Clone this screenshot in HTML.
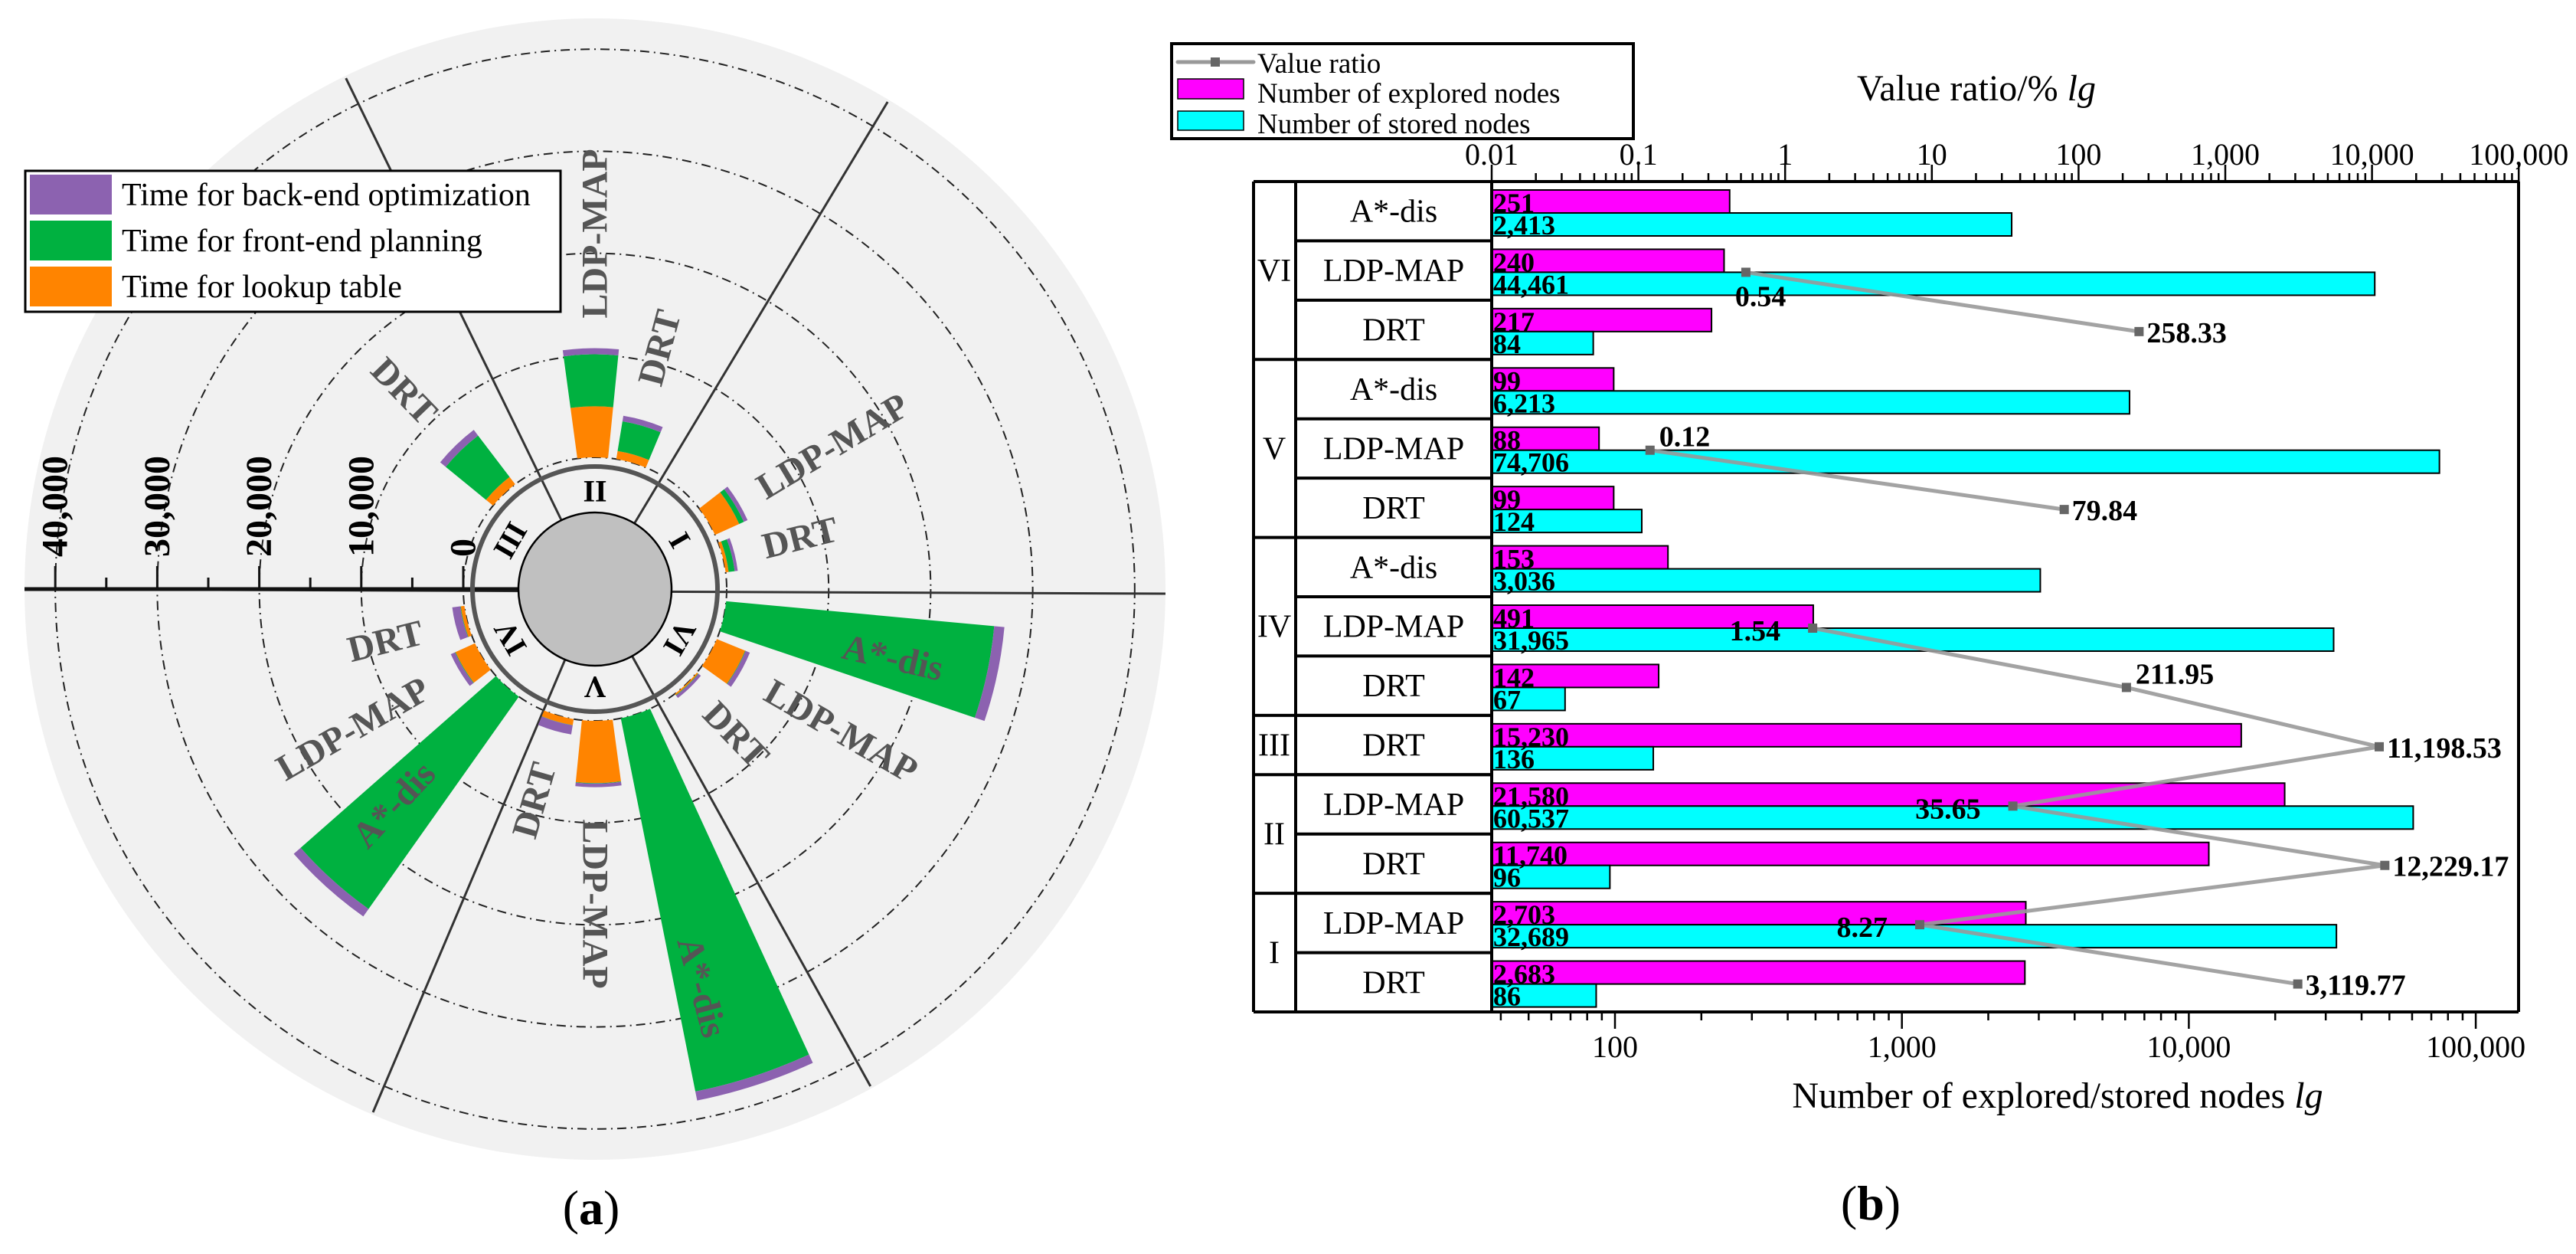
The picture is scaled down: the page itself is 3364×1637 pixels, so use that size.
<!DOCTYPE html>
<html><head><meta charset="utf-8">
<style>
html,body{margin:0;padding:0;background:#fff;}
svg{display:block;}
svg text{font-family:"Liberation Serif","DejaVu Serif",serif;}
</style></head>
<body>
<svg id="fig" width="3364" height="1637" viewBox="0 0 3364 1637" xmlns="http://www.w3.org/2000/svg" font-family="Liberation Serif, DejaVu Serif, serif">
<rect x="0" y="0" width="3364" height="1637" fill="#ffffff"/>
<g id="polar"></g>
<g id="bars"></g>
</svg>
<script>
// ---------- Polar chart data (a) ----------
const polarSector = ['I','I','II','II','III','IV','IV','IV','V','V','V','VI','VI','VI'];
const polarMethod = ['LDP-MAP','DRT','LDP-MAP','DRT','DRT','A*-dis','LDP-MAP','DRT','A*-dis','LDP-MAP','DRT','A*-dis','LDP-MAP','DRT'];
const lookupTime = [2600,300,5000,800,900,0,2100,350,0,6100,600,0,3000,150];
const frontTime = [500,600,5100,2950,5100,25500,50,50,37300,50,20,26400,50,50];
const backTime = [400,300,600,550,700,900,450,800,900,350,900,1000,450,300];
const polarTicks = [0,10000,20000,30000,40000];
const polarTickLabels = ['0','10,000','20,000','30,000','40,000'];
// label placement (layout only): radius, compass angle
const labelR = [362,276,464,326,359,385,365,282,538,411,287,399,371,265];
const labelA = [59,76,0,15,316,223,240,256,165,180,196,103,120,136];

// ---------- Bar chart data (b) ----------
const groups = ['VI','V','IV','III','II','I'];
const groupSizes = [3,3,3,1,2,2];
const methods = ['A*-dis','LDP-MAP','DRT','A*-dis','LDP-MAP','DRT','A*-dis','LDP-MAP','DRT','DRT','LDP-MAP','DRT','LDP-MAP','DRT'];
const explored = [251,240,217,99,88,99,153,491,142,15230,21580,11740,2703,2683];
const stored = [2413,44461,84,6213,74706,124,3036,31965,67,136,60537,96,32689,86];
const exploredLabels = ['251','240','217','99','88','99','153','491','142','15,230','21,580','11,740','2,703','2,683'];
const storedLabels = ['2,413','44,461','84','6,213','74,706','124','3,036','31,965','67','136','60,537','96','32,689','86'];
const ratio = [null,0.54,258.33,null,0.12,79.84,null,1.54,211.95,11198.53,35.65,12229.17,8.27,3119.77];
const ratioLabels = ['','0.54','258.33','','0.12','79.84','','1.54','211.95','11,198.53','35.65','12,229.17','8.27','3,119.77'];
const ratioSide = ['','below','right','','above','right','','left','above','right','left','right','left','right'];
const topTickLabels = ['0.01','0.1','1','10','100','1,000','10,000','100,000'];
const bottomTicks = [100,1000,10000,100000];
const bottomTickLabels = ['100','1,000','10,000','100,000'];

const NS='http://www.w3.org/2000/svg';
const FF='"Liberation Serif","DejaVu Serif",serif';
function mk(parent, tag, attrs, text){
  const e=document.createElementNS(NS,tag);
  for(const k in attrs) e.setAttribute(k,attrs[k]);
  if(tag==='text') e.setAttribute('font-family',FF);
  if(text!==undefined) e.textContent=text;
  parent.appendChild(e);
  return e;
}

// ================= POLAR =================
(function(){
  const g=document.getElementById('polar');
  const cx=777, cy=769, r0=172, pxPer=0.01332;
  const rS=v=>r0+v*pxPer;
  const rad=a=>a*Math.PI/180;
  const P=(r,a)=>[cx+r*Math.sin(rad(a)), cy-r*Math.cos(rad(a))];
  let e;
  e=mk(g,'circle',{cx:cx,cy:cy,r:745,fill:'#f1f1f1'});
  
  
  polarTicks.forEach((t,i)=>{
    e=mk(g,'circle',{cx:cx,cy:cy,r:rS(t),fill:'none',stroke:'#222','stroke-width':2,'stroke-dasharray':'12 6 2 6'});
    
    
  });
  [334,31,151,203].forEach(a=>{
    const p1=P(100,a), p2=P(742,a);
    e=mk(g,'line',{x1:p1[0],y1:p1[1],x2:p2[0],y2:p2[1],stroke:'#333','stroke-width':3});
    
    
  });
  e=mk(g,'line',{x1:32,y1:cy,x2:1522,y2:cy+6,stroke:'#333','stroke-width':3});
  
  
  e=mk(g,'line',{x1:32,y1:cy,x2:cx,y2:cy,stroke:'#111','stroke-width':5});
  
  
  for(let v=0; v<=40000; v+=5000){
    const x=cx-rS(v);
    const major=v%10000===0;
    e=mk(g,'line',{x1:x,y1:cy,x2:x,y2:major?cy-30:cy-15,stroke:'#111','stroke-width':3});
    
    
  }
  polarTicks.forEach((t,i)=>{
    const x=cx-rS(t);
    e=mk(g,'text',{x:0,y:0,transform:`translate(${x},727) rotate(-90)`,'font-size':48,'font-weight':'bold','dominant-baseline':'central','text-anchor':'start',fill:'#000'},polarTickLabels[i]);
    
    
  });
  e=mk(g,'circle',{cx:cx,cy:cy,r:160,fill:'none',stroke:'#555','stroke-width':6});
  
  
  e=mk(g,'circle',{cx:cx,cy:cy,r:100,fill:'#c0c0c0',stroke:'#000','stroke-width':2.5});
  
  
  const secStart={'I':30,'II':-30,'III':270,'IV':210,'V':150,'VI':90};
  const slot={'A*-dis':12,'LDP-MAP':29,'DRT':46};
  Object.keys(secStart).forEach(s=>{
    const a=secStart[s]+30; const p=P(128,a);
    e=mk(g,'text',{x:0,y:0,transform:`translate(${p[0]},${p[1]}) rotate(${a})`,'font-size':40,'font-weight':'bold','text-anchor':'middle','dominant-baseline':'central',fill:'#000'},s);
    
    
  });
  function wedge(r1,r2,a1,a2,fill,name){
    if(r2-r1<0.2) return;
    const p1=P(r1,a1),p2=P(r1,a2),p3=P(r2,a2),p4=P(r2,a1);
    const d=`M${p1[0]},${p1[1]} A${r1},${r1} 0 0 1 ${p2[0]},${p2[1]} L${p3[0]},${p3[1]} A${r2},${r2} 0 0 0 ${p4[0]},${p4[1]} Z`;
    const w=mk(g,'path',{d:d,fill:fill});
    
    
  }
  const hw=6.7;
  polarSector.forEach((s,i)=>{
    const a=secStart[s]+slot[polarMethod[i]];
    const v1=lookupTime[i], v2=v1+frontTime[i], v3=v2+backTime[i];
    const base=s.toLowerCase()+'-'+polarMethod[i].toLowerCase().replace('*','-star');
    wedge(rS(0),rS(v1),a-hw,a+hw,'#ff8400','lookup-bar-'+base);
    wedge(rS(v1),rS(v2),a-hw,a+hw,'#00b140','front-end-bar-'+base);
    wedge(rS(v2),rS(v3),a-hw,a+hw,'#8c62b0','back-end-bar-'+base);
  });
  polarMethod.forEach((m,i)=>{
    const a=labelA[i]; const p=P(labelR[i],a);
    const inward = a>185 && a<355;
    const rot = inward ? a+90 : a-90;
    e=mk(g,'text',{x:0,y:0,transform:`translate(${p[0]},${p[1]}) rotate(${rot})`,'font-size':48,'font-weight':'bold','text-anchor':'middle','dominant-baseline':'central',fill:'#555'},m);
    
    
  });
  const lg=mk(g,'g',{});
  
  
  e=mk(lg,'rect',{x:33,y:223,width:699,height:184,fill:'#fff',stroke:'#000','stroke-width':3});
  
  
  const legItems=[['#8c62b0','Time for back-end optimization',228],['#00b140','Time for front-end planning',288],['#ff8400','Time for lookup table',348]];
  legItems.forEach(it=>{
    e=mk(lg,'rect',{x:39,y:it[2],width:107,height:52,fill:it[0]});
    
    
    e=mk(lg,'text',{x:159,y:it[2]+40,'font-size':42,fill:'#000'},it[1]);
    
    
  });
  e=mk(g,'text',{x:772,y:1598,'font-size':64,'text-anchor':'middle',fill:'#000'},'');
  
  
  mk(e,'tspan',{},'(');
  mk(e,'tspan',{'font-weight':'bold'},'a');
  mk(e,'tspan',{},')');
})();

// ================= BAR CHART =================
(function(){
  const g=document.getElementById('bars');
  const L=1948, R=3289, T=237, B=1321, rowH=(B-T)/14;
  const xN=v=>2109+(Math.log10(v)-2)*374.7;
  const xR=v=>L+(Math.log10(v)+2)*191.6;
  const yRow=i=>T+i*rowH;
  let e;
  e=mk(g,'rect',{x:1530,y:57,width:603,height:124,fill:'#fff',stroke:'#000','stroke-width':4});
  
  
  e=mk(g,'line',{x1:1538,y1:81,x2:1637,y2:81,stroke:'#999','stroke-width':5,'stroke-linecap':'round'});
  
  
  e=mk(g,'rect',{x:1581,y:75,width:12,height:12,fill:'#666'});
  
  
  e=mk(g,'rect',{x:1538,y:103,width:86,height:26,fill:'#ff00ff',stroke:'#000','stroke-width':1.5});
  
  
  e=mk(g,'rect',{x:1538,y:145,width:86,height:25,fill:'#00ffff',stroke:'#000','stroke-width':1.5});
  
  
  [['Value ratio',95],['Number of explored nodes',134],['Number of stored nodes',174]].forEach(t=>{
    e=mk(g,'text',{x:1642,y:t[1],'font-size':37,fill:'#000'},t[0]);
    
    
  });
  e=mk(g,'text',{x:2581,y:131,'font-size':48,'text-anchor':'middle',fill:'#000'},'Value ratio/% ');
  
  
  mk(e,'tspan',{'font-style':'italic'},'lg');
  e=mk(g,'text',{x:2687,y:1446,'font-size':48,'text-anchor':'middle',fill:'#000'},'Number of explored/stored nodes ');
  
  
  mk(e,'tspan',{'font-style':'italic'},'lg');
  e=mk(g,'text',{x:2443,y:1592,'font-size':64,'text-anchor':'middle',fill:'#000'},'');
  
  
  mk(e,'tspan',{},'(');
  mk(e,'tspan',{'font-weight':'bold'},'b');
  mk(e,'tspan',{},')');
  for(let d=-2; d<=5; d++){
    const x=xR(Math.pow(10,d));
    e=mk(g,'line',{x1:x,y1:T,x2:x,y2:T-22,stroke:'#000','stroke-width':2.5});
    
    
    e=mk(g,'text',{x:x,y:215,'font-size':40,'text-anchor':'middle',fill:'#000'},topTickLabels[d+2]);
    
    
    if(d<5){ for(let m=2;m<=9;m++){
      const xm=xR(m*Math.pow(10,d));
      e=mk(g,'line',{x1:xm,y1:T,x2:xm,y2:T-11,stroke:'#000','stroke-width':2.5});
      
      
    }}
  }
  for(let d=1; d<=5; d++){
    for(let m=1;m<=9;m++){
      const v=m*Math.pow(10,d); const x=xN(v);
      if(x<L+5||x>R-2) continue;
      const major=m===1;
      e=mk(g,'line',{x1:x,y1:B,x2:x,y2:B+(major?22:11),stroke:'#000','stroke-width':2.5});
      
      
    }
  }
  bottomTicks.forEach((v,i)=>{
    e=mk(g,'text',{x:xN(v),y:1380,'font-size':40,'text-anchor':'middle',fill:'#000'},bottomTickLabels[i]);
    
    
  });
  methods.forEach((m,i)=>{
    const y=yRow(i);
    e=mk(g,'rect',{x:L,y:y+11,width:xN(explored[i])-L,height:30,fill:'#ff00ff',stroke:'#000','stroke-width':2});
    
    
    e=mk(g,'rect',{x:L,y:y+41,width:xN(stored[i])-L,height:30,fill:'#00ffff',stroke:'#000','stroke-width':2});
    
    
    e=mk(g,'text',{x:L+2,y:y+40,'font-size':36,'font-weight':'bold',fill:'#000'},exploredLabels[i]);
    
    
    e=mk(g,'text',{x:L+2,y:y+69,'font-size':36,'font-weight':'bold',fill:'#000'},storedLabels[i]);
    
    
    e=mk(g,'text',{x:1820,y:y+rowH/2+14,'font-size':42,'text-anchor':'middle',fill:'#000'},m);
    
    
    e=mk(g,'line',{x1:1692,y1:y,x2:L,y2:y,stroke:'#000','stroke-width':4});
    
    
  });
  let acc=0;
  groups.forEach((gr,j)=>{
    const y0=yRow(acc), y1=yRow(acc+groupSizes[j]);
    e=mk(g,'line',{x1:1637,y1:y0,x2:L,y2:y0,stroke:'#000','stroke-width':4});
    
    
    e=mk(g,'text',{x:1664,y:(y0+y1)/2+14,'font-size':42,'text-anchor':'middle',fill:'#000'},gr);
    
    
    acc+=groupSizes[j];
  });
  [[1637,T,R,T],[1637,B,R,B],[1637,T,1637,B],[1692,T,1692,B],[L,T,L,B],[R,T,R,B]].forEach(l=>{
    e=mk(g,'line',{x1:l[0],y1:l[1],x2:l[2],y2:l[3],stroke:'#000','stroke-width':4});
    
    
  });
  let seg=[];
  const segs=[];
  ratio.forEach((v,i)=>{
    if(v===null){ if(seg.length) segs.push(seg); seg=[]; }
    else seg.push([xR(v), yRow(i)+41]);
  });
  if(seg.length) segs.push(seg);
  segs.forEach(s=>{
    e=mk(g,'polyline',{points:s.map(p=>p.join(',')).join(' '),fill:'none',stroke:'#999','stroke-width':5,'stroke-opacity':0.9});
    
    
  });
  ratio.forEach((v,i)=>{
    if(v===null) return;
    const x=xR(v), y=yRow(i)+41;
    e=mk(g,'rect',{x:x-6,y:y-6,width:12,height:12,fill:'#666'});
    
    
    let tx=x+10, ty=y+14, anc='start';
    if(ratioSide[i]==='below'){tx=x-14; ty=y+44;}
    else if(ratioSide[i]==='above'){tx=x+12; ty=y-5;}
    else if(ratioSide[i]==='left'){tx=x-42; ty=y+16; anc='end';}
    e=mk(g,'text',{x:tx,y:ty,'font-size':38,'font-weight':'bold','text-anchor':anc,fill:'#000'},ratioLabels[i]);
    
    
  });
})();
</script>
</body></html>
